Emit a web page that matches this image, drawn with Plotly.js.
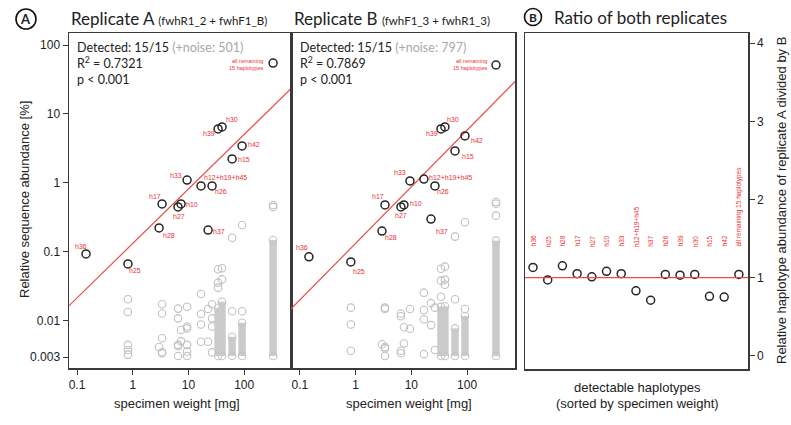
<!DOCTYPE html>
<html>
<head>
<meta charset="utf-8">
<script src="https://cdn.plot.ly/plotly-3.0.1.min.js"></script>
<style>html,body{margin:0;padding:0;background:#fff;}#chart{width:791px;height:425px;}</style>
</head>
<body>
<div id="chart"></div>
<script>
// ---------------- DATA ----------------
const haplotypes = ['h36','h25','h28','h17','h27','h10','h33','h12+h19+h45','h37','h26','h39','h30','h15','h42','all remaining 15 haplotypes'];
const weightMg   = [0.145, 0.82, 2.97, 3.36, 6.5, 7.36, 9.44, 16.8, 22.5, 26.5, 34, 40, 60.7, 91.6, 330];
const relAbundA  = [0.0935, 0.067, 0.223, 0.497, 0.449, 0.497, 1.10, 0.906, 0.208, 0.906, 6.07, 6.49, 2.23, 3.44, 54.8];
const relAbundB  = [0.085, 0.0716, 0.201, 0.48, 0.449, 0.48, 1.07, 1.14, 0.30, 0.906, 6.07, 6.49, 2.91, 4.8, 51.3];
const ratioAB    = [1.13, 0.97, 1.15, 1.05, 1.01, 1.08, 1.05, 0.83, 0.71, 1.04, 1.03, 1.04, 0.76, 0.75, 1.04];

// noise haplotypes (individual points)
const noiseA_w = [0.82,0.82,0.82,0.82,0.82, 2.97, 3.36,3.36,3.36,3.36,3.36, 6.5,6.5,6.5,6.5,6.5, 7.36,7.36, 9.44,9.44,9.44,9.44,9.44,9.44, 16.8,16.8,16.8,16.8, 22.5,22.5, 26.5,26.5,26.5,26.5, 34,34,34, 40,40, 60.7,60.7, 91.6,91.6, 330,330];
const noiseA_y = [0.0206,0.0135,0.0045,0.0038,0.00325, 0.0042, 0.0175,0.0128,0.0056,0.00352,0.0034, 0.0151,0.0109,0.0045,0.0043,0.0031, 0.0074,0.0051, 0.0161,0.0083,0.0078,0.0045,0.0036,0.0031, 0.0246,0.0126,0.0089,0.0050, 0.0149,0.0050, 0.0175,0.0109,0.0083,0.0035, 0.0561,0.0359,0.0304, 0.058,0.040, 0.161,0.0138, 0.246,0.0138, 0.48,0.45];
const noiseB_w = [0.82,0.82,0.82, 2.97, 3.36,3.36,3.36,3.36,3.36, 6.5,6.5,6.5,6.5, 7.36,7.36, 9.44,9.44, 16.8,16.8,16.8,16.8, 22.5,22.5, 26.5,26.5, 34,34,34, 40,40,40, 60.7,60.7, 91.6,91.6, 330,330,330];
const noiseB_y = [0.0156,0.0089,0.0037, 0.0046, 0.0156,0.0149,0.0042,0.0040,0.0031, 0.0128,0.0117,0.0037,0.0034, 0.0081,0.0047, 0.0149,0.0077, 0.0257,0.0144,0.0106,0.0033, 0.0181,0.0087, 0.0156,0.0038, 0.057,0.0384,0.0224, 0.0613,0.0397,0.0334, 0.167,0.0206, 0.269,0.0149, 0.53,0.50,0.336];

// dense stacks of noise haplotypes (lowest and highest value in each stack)
const stackA_w  = [34, 40, 60.7, 91.6, 330];
const stackA_lo = [0.0031, 0.0031, 0.0031, 0.0031, 0.0031];
const stackA_hi = [0.0155, 0.019, 0.0059, 0.0094, 0.149];
const stackB_w  = [34, 40, 60.7, 91.6, 330];
const stackB_lo = [0.0031, 0.0031, 0.0031, 0.0031, 0.0031];
const stackB_hi = [0.016, 0.0163, 0.0078, 0.0118, 0.146];

// regression (log10 y = intercept + slope * log10 x)
const fitIntercept = [-0.876, -0.875];
const fitSlope     = [0.79, 0.82];
const detected = ['15/15', '15/15'];
const noiseCount = [501, 797];
const rSquared = [0.7321, 0.7869];
const pText = ['p < 0.001', 'p < 0.001'];

const xTickVals = [0.1, 1, 10, 100];
const xTickText = ['0.1', '1', '10', '100'];
const yTickVals = [0.003, 0.01, 0.1, 1, 10, 100];
const yTickText = ['0.003', '0.01', '0.1', '1', '10', '100'];
const rTickVals = [0, 1, 2, 3, 4];
const ratioRef = 1;

// ---------------- STYLE ----------------
const W = 791, H = 425;
const px = v => v / W, py = v => 1 - v / H;
const RED = '#ec2f35', GREY = '#c0c0c0', DARK = '#262626', FRAME = '#3a3a3a';
const tickFont = {family: 'Liberation Sans, Arial, sans-serif', size: 12, color: '#222'};
const titleFamily = 'Lato, Open Sans, sans-serif';

// label offsets (dx, dy in px) for panels A and B
const offA = [[-5.5,-7],[7,7],[9.5,8],[-7,-7],[0.5,10],[11,1],[-11,-5],[24.5,-8],[10.5,1],[8.5,6],[-9.5,5],[9.5,-7],[11.5,1],[11.5,-1],[-8,1]];
const offB = [[-6.5,-9],[8.5,10],[9,6],[-6.5,-8],[0.5,9],[12,-1],[-10,-8],[27,-2],[11.5,12],[8.5,6],[-9,5],[8.5,-7],[12.5,6],[12,5],[-7,-0.5]];

const traces = [];
function panel(xa, ya, nW, nY, sW, sLo, sHi, rel, k) {
  traces.push({x: nW, y: nY, xaxis: xa, yaxis: ya, type: 'scatter', mode: 'markers',
    marker: {symbol: 'circle-open', size: 7.5, color: GREY, line: {width: 1.1}}, hoverinfo: 'skip'});
  for (let i = 0; i < sW.length; i++) {
    traces.push({x: [sW[i], sW[i]], y: [sLo[i], sHi[i]], xaxis: xa, yaxis: ya, type: 'scatter', mode: 'lines+markers',
      line: {color: '#cbcbcb', width: 7.5}, marker: {symbol: 'circle-open', size: 7.5, color: '#c4c4c4', line: {width: 1.1}}, hoverinfo: 'skip'});
  }
  const fx = [0.03, 3000];
  traces.push({x: fx, y: fx.map(v => Math.pow(10, fitIntercept[k] + fitSlope[k] * Math.log10(v))), xaxis: xa, yaxis: ya,
    type: 'scatter', mode: 'lines', line: {color: '#f04848', width: 1.2}, hoverinfo: 'skip'});
  traces.push({x: weightMg, y: rel, xaxis: xa, yaxis: ya, type: 'scatter', mode: 'markers',
    marker: {symbol: 'circle-open', size: 8, color: DARK, line: {width: 1.5}}});
}
panel('x', 'y', noiseA_w, noiseA_y, stackA_w, stackA_lo, stackA_hi, relAbundA, 0);
panel('x2', 'y2', noiseB_w, noiseB_y, stackB_w, stackB_lo, stackB_hi, relAbundB, 1);
traces.push({x: haplotypes.map((h, i) => i), y: ratioAB, xaxis: 'x3', yaxis: 'y3', type: 'scatter', mode: 'markers',
  marker: {symbol: 'circle-open', size: 8, color: DARK, line: {width: 1.5}}});

const annotations = [];
function pointLabels(xa, ya, rel, off) {
  haplotypes.forEach((h, i) => {
    const isRest = i === haplotypes.length - 1;
    annotations.push({xref: xa, yref: ya, x: Math.log10(weightMg[i]), y: Math.log10(rel[i]),
      text: isRest ? 'all remaining<br>15 haplotypes' : h, showarrow: false,
      xanchor: isRest ? 'right' : 'center', yanchor: 'middle', align: isRest ? 'right' : 'center',
      xshift: off[i][0], yshift: -off[i][1],
      font: {family: 'Liberation Sans, Arial, sans-serif', size: isRest ? 5.5 : 7, color: RED}});
  });
}
pointLabels('x', 'y', relAbundA, offA);
pointLabels('x2', 'y2', relAbundB, offB);
haplotypes.forEach((h, i) => {
  annotations.push({xref: 'x3', yref: 'y3', x: i, y: 1.37, text: h, showarrow: false, textangle: -90,
    xanchor: 'center', yanchor: 'bottom', font: {family: 'Liberation Sans, Arial, sans-serif', size: 6.5, color: RED}});
});

function paperText(x, y, text, size, opts) {
  annotations.push(Object.assign({xref: 'paper', yref: 'paper', x: px(x), y: py(y), text: text, showarrow: false,
    xanchor: 'left', yanchor: 'middle', font: {family: titleFamily, size: size, color: '#222'}}, opts || {}));
}
// panel titles
paperText(69, 18, 'Replicate A <span style="font-size:11.5px">(fwhR1_2 + fwhF1_B)</span>', 17);
paperText(292, 18, 'Replicate B <span style="font-size:11.5px">(fwhF1_3 + fwhR1_3)</span>', 17);
paperText(552, 17, 'Ratio of both replicates', 17);
paperText(26, 19, '<b>A</b>', 13, {xanchor: 'center'});
paperText(533, 17, '<b>B</b>', 12, {xanchor: 'center'});
// stats
[75, 298].forEach((x0, k) => {
  paperText(x0, 47, 'Detected: ' + detected[k] + ' <span style="color:#a8a8a8">(+noise: ' + noiseCount[k] + ')</span>', 12.5);
  paperText(x0, 63, 'R<sup>2</sup> = ' + rSquared[k].toFixed(4), 12.5);
  paperText(x0, 79, pText[k], 12.5);
});
// axis titles
const axFont = {family: 'Liberation Sans, Arial, sans-serif', size: 13, color: '#222'};
paperText(177, 403, 'specimen weight [mg]', 13, {xanchor: 'center', font: axFont});
paperText(409, 403, 'specimen weight [mg]', 13, {xanchor: 'center', font: axFont});
paperText(637, 387, 'detectable haplotypes', 13, {xanchor: 'center', font: axFont});
paperText(637, 403, '(sorted by specimen weight)', 13, {xanchor: 'center', font: axFont});
paperText(24, 200, 'Relative sequence abundance [%]', 13, {xanchor: 'center', textangle: -90, font: axFont});
paperText(782, 201, 'Relative haplotype abundance of replicate A divided by B', 13, {xanchor: 'center', textangle: -90, font: axFont});

const shapes = [
  {type: 'line', xref: 'x3 domain', yref: 'y3', x0: 0, x1: 1, y0: ratioRef, y1: ratioRef, line: {color: '#f04848', width: 1.2}},
  {type: 'circle', xref: 'paper', yref: 'paper', x0: px(16), x1: px(36), y0: py(9), y1: py(29), line: {color: '#111', width: 1.6}},
  {type: 'circle', xref: 'paper', yref: 'paper', x0: px(524.5), x1: px(541.5), y0: py(8.5), y1: py(25.5), line: {color: '#111', width: 1.6}}
];

const frame = {showline: true, mirror: true, linecolor: FRAME, linewidth: 1.5, showgrid: false, zeroline: false};
const yDom = [py(368), py(33)];
const layout = {
  width: W, height: H, margin: {l: 0, r: 0, t: 0, b: 0}, paper_bgcolor: '#fff', plot_bgcolor: '#fff',
  showlegend: false, hovermode: false,
  xaxis: Object.assign({domain: [px(69), px(291)], anchor: 'y', type: 'log', range: [-1.144, 2.84],
    ticks: 'outside', ticklen: 5, tickcolor: FRAME, tickvals: xTickVals, ticktext: xTickText, tickfont: tickFont}, frame),
  yaxis: Object.assign({domain: yDom, anchor: 'x', type: 'log', range: [-2.682, 2.174],
    ticks: 'outside', ticklen: 5, tickcolor: FRAME, tickvals: yTickVals, ticktext: yTickText, tickfont: tickFont}, frame),
  xaxis2: Object.assign({domain: [px(291), px(515)], anchor: 'y2', type: 'log', range: [-1.16, 2.86],
    ticks: 'outside', ticklen: 5, tickcolor: FRAME, tickvals: xTickVals, ticktext: xTickText, tickfont: tickFont}, frame),
  yaxis2: Object.assign({domain: yDom, anchor: 'x2', type: 'log', range: [-2.682, 2.174], showticklabels: false, ticks: ''}, frame),
  xaxis3: Object.assign({domain: [px(525), px(748)], anchor: 'y3', type: 'linear', range: [-0.544, 14.62], showticklabels: false, ticks: ''}, frame),
  yaxis3: Object.assign({domain: [py(369), py(33)], anchor: 'x3', side: 'right', range: [-0.17, 4.13],
    ticks: 'outside', ticklen: 5, tickcolor: FRAME, tickvals: rTickVals, tickfont: tickFont}, frame),
  annotations: annotations, shapes: shapes
};
Plotly.newPlot('chart', traces, layout, {staticPlot: true, displayModeBar: false});
</script>
</body>
</html>
